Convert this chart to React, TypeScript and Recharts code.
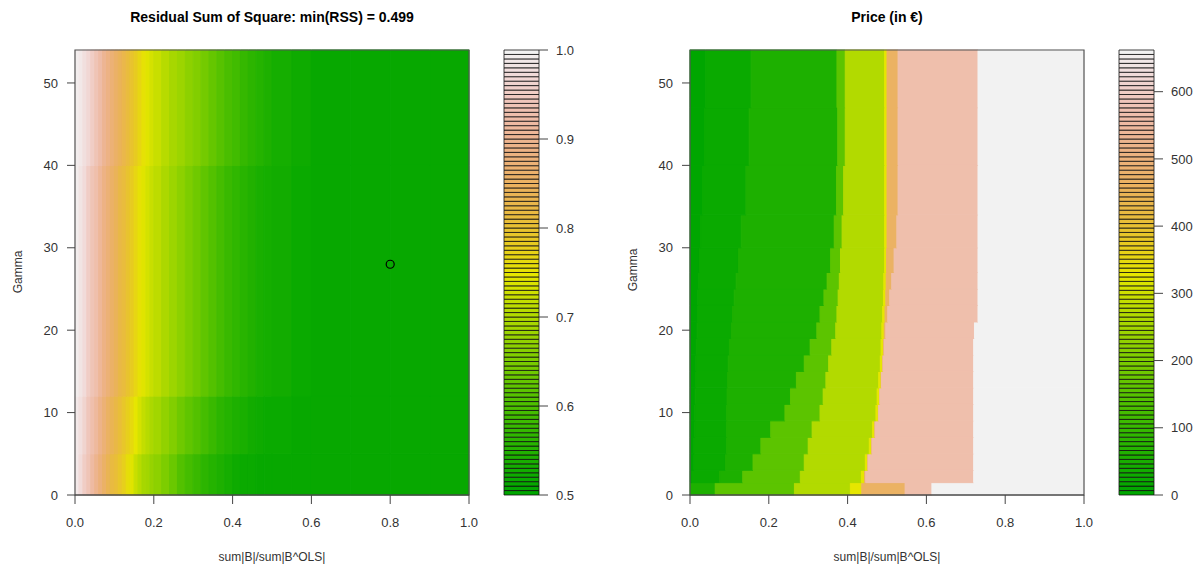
import React from 'react';
import { ComposedChart, XAxis, YAxis, ReferenceArea, Scatter } from 'recharts';

// ---- left panel: residual sum of squares ----
const rssXEdges = [
  0, 0.01, 0.02, 0.03, 0.04, 0.05, 0.06, 0.07, 0.08, 0.09, 0.1, 0.11, 0.12, 0.13, 0.14, 0.15, 0.16, 0.17, 0.18, 0.19, 0.2,
  0.22, 0.24, 0.26, 0.28, 0.3, 0.32, 0.34, 0.36, 0.38, 0.4, 0.42, 0.44, 0.46, 0.48, 0.5,
  0.55, 0.6, 0.7, 0.8, 0.9, 1.0,
];
const rssGammaEdges = [0, 5, 12, 40, 54];
const rss0 = [
  0.985, 0.97, 0.955, 0.935, 0.915, 0.895, 0.875, 0.855, 0.835, 0.82, 0.805, 0.79, 0.775, 0.755, 0.74, 0.725, 0.71, 0.695, 0.685, 0.675, 0.665,
  0.65, 0.63, 0.61, 0.595, 0.58, 0.565, 0.55, 0.54, 0.53, 0.523, 0.518, 0.515, 0.513, 0.512, 0.511,
  0.51, 0.51, 0.51, 0.51, 0.51,
];
const rss1 = [
  0.988, 0.975, 0.962, 0.945, 0.928, 0.91, 0.89, 0.87, 0.852, 0.837, 0.822, 0.807, 0.792, 0.775, 0.76, 0.745, 0.73, 0.718, 0.708, 0.698, 0.688,
  0.672, 0.655, 0.637, 0.622, 0.607, 0.592, 0.578, 0.565, 0.553, 0.543, 0.535, 0.528, 0.522, 0.518, 0.515,
  0.512, 0.51, 0.51, 0.51, 0.51,
];
const rss2 = [
  0.99, 0.98, 0.97, 0.955, 0.94, 0.925, 0.905, 0.885, 0.87, 0.855, 0.84, 0.825, 0.81, 0.795, 0.78, 0.765, 0.752, 0.742, 0.732, 0.722, 0.712,
  0.697, 0.682, 0.667, 0.652, 0.637, 0.622, 0.607, 0.592, 0.578, 0.566, 0.556, 0.546, 0.538, 0.531, 0.525,
  0.517, 0.512, 0.51, 0.51, 0.51,
];
const rss3 = [
  0.993, 0.986, 0.978, 0.966, 0.953, 0.938, 0.922, 0.903, 0.887, 0.872, 0.857, 0.842, 0.827, 0.812, 0.797, 0.782, 0.767, 0.753, 0.742, 0.732, 0.722,
  0.708, 0.695, 0.682, 0.668, 0.655, 0.642, 0.628, 0.614, 0.6, 0.587, 0.574, 0.562, 0.551, 0.541, 0.532,
  0.52, 0.514, 0.51, 0.51, 0.51,
];
const rssRows = [rss0, rss1, rss2, rss3];
const rssMin = [{ x: 0.8, y: 28 }];

// ---- right panel: price ----
const priceGammaEdges = [0, 1.5, 3, 5, 7, 9, 11, 13, 15, 17, 19, 21, 23, 25, 27, 30, 34, 40, 47, 54];
const priceBands = [5, 25, 58, 156, 265, 330, 470, 566, 662];
// x where each band ends, one value per gamma row
const edgeAB = [0, 0.005, 0.01, 0.01, 0.012, 0.012, 0.013, 0.014, 0.015, 0.016, 0.018, 0.019, 0.02, 0.022, 0.024, 0.027, 0.032, 0.037, 0.04];
const edgeBC = [0, 0.075, 0.09, 0.093, 0.093, 0.093, 0.094, 0.095, 0.097, 0.1, 0.105, 0.108, 0.112, 0.117, 0.123, 0.13, 0.142, 0.15, 0.155];
const edgeCD = [0.064, 0.134, 0.16, 0.18, 0.205, 0.241, 0.255, 0.27, 0.29, 0.305, 0.322, 0.33, 0.34, 0.348, 0.357, 0.366, 0.372, 0.375, 0.373];
const edgeDE = [0.265, 0.28, 0.29, 0.3, 0.31, 0.33, 0.338, 0.345, 0.352, 0.36, 0.37, 0.373, 0.376, 0.379, 0.382, 0.386, 0.39, 0.394, 0.394];
const edgeEF = [0.407, 0.435, 0.445, 0.455, 0.463, 0.472, 0.475, 0.479, 0.483, 0.485, 0.487, 0.489, 0.491, 0.492, 0.494, 0.494, 0.494, 0.494, 0.494];
const edgeFG = [0.436, 0.443, 0.451, 0.461, 0.469, 0.478, 0.481, 0.485, 0.489, 0.491, 0.493, 0.495, 0.497, 0.498, 0.499, 0.5, 0.5, 0.5, 0.5];
const edgeGH = [0.546, 0.446, 0.452, 0.462, 0.47, 0.479, 0.482, 0.486, 0.49, 0.493, 0.497, 0.502, 0.507, 0.512, 0.518, 0.525, 0.528, 0.528, 0.528];
const edgeHI = [0.614, 0.72, 0.72, 0.72, 0.72, 0.72, 0.72, 0.72, 0.72, 0.72, 0.722, 0.731, 0.731, 0.731, 0.731, 0.731, 0.731, 0.731, 0.731];

const xTicks = [0, 0.2, 0.4, 0.6, 0.8, 1.0];
const gammaTicks = [0, 10, 20, 30, 40, 50];
const rssKeyTicks = [0.5, 0.6, 0.7, 0.8, 0.9, 1.0];
const priceKeyTicks = [0, 100, 200, 300, 400, 500, 600];

const FONT = '"Liberation Sans", Arial, sans-serif';
const NLEV = 100;

// R terrain.colors(100)
function terrain(i: number) {
  let h: number, s: number, v: number;
  if (i < NLEV / 2) {
    const f = i / (NLEV / 2 - 1);
    h = 1 / 3 - f / 6; s = 1; v = 0.65 + 0.25 * f;
  } else {
    const f = (i - (NLEV / 2 - 1)) / (NLEV / 2);
    h = (1 / 6) * (1 - f); s = 1 - f; v = 0.9 + 0.05 * f;
  }
  const k = (n: number) => (n + h * 6) % 6;
  const ch = (n: number) => Math.round(255 * (v - v * s * Math.max(0, Math.min(k(n), 4 - k(n), 1))));
  return `rgb(${ch(5)},${ch(3)},${ch(1)})`;
}

function colorOf(val: number, lo: number, hi: number) {
  const i = Math.max(0, Math.min(NLEV - 1, Math.floor(((val - lo) / (hi - lo)) * NLEV)));
  return terrain(i);
}

const tickStyle = { fontSize: 13, fill: '#333', fontFamily: FONT };

function rssCells() {
  const out: React.ReactNode[] = [];
  rssRows.forEach((row, r) => {
    row.forEach((v, c) => {
      const fill = colorOf(v, 0.5, 1.0);
      out.push(
        <ReferenceArea
          key={`rss-${r}-${c}`}
          x1={rssXEdges[c]}
          x2={rssXEdges[c + 1]}
          y1={rssGammaEdges[r]}
          y2={rssGammaEdges[r + 1]}
          fill={fill}
          fillOpacity={1}
          stroke={fill}
          strokeWidth={1}
        />
      );
    });
  });
  return out;
}

function priceCells() {
  const out: React.ReactNode[] = [];
  for (let r = 0; r < priceGammaEdges.length - 1; r++) {
    const xs = [0, edgeAB[r], edgeBC[r], edgeCD[r], edgeDE[r], edgeEF[r], edgeFG[r], edgeGH[r], edgeHI[r], 1];
    for (let b = 0; b < priceBands.length; b++) {
      if (xs[b + 1] <= xs[b]) continue;
      const fill = colorOf(priceBands[b], 0, 662);
      out.push(
        <ReferenceArea
          key={`p-${r}-${b}`}
          x1={xs[b]}
          x2={xs[b + 1]}
          y1={priceGammaEdges[r]}
          y2={priceGammaEdges[r + 1]}
          fill={fill}
          fillOpacity={1}
          stroke={fill}
          strokeWidth={1}
        />
      );
    }
  }
  return out;
}

function keyCells(lo: number, hi: number) {
  const out: React.ReactNode[] = [];
  for (let i = 0; i < NLEV; i++) {
    out.push(
      <ReferenceArea
        key={`k-${i}`}
        x1={0}
        x2={1}
        y1={lo + ((hi - lo) * i) / NLEV}
        y2={lo + ((hi - lo) * (i + 1)) / NLEV}
        fill={terrain(i)}
        fillOpacity={1}
        stroke="#111"
        strokeWidth={0.8}
        ifOverflow="visible"
      />
    );
  }
  return out;
}

function Heatmap({ cells, withMin }: { cells: React.ReactNode[]; withMin?: boolean }) {
  return (
    <ComposedChart width={600} height={570} margin={{ top: 50, right: 131, bottom: 45, left: 15 }}>
      <XAxis
        type="number"
        dataKey="x"
        domain={[0, 1]}
        ticks={xTicks}
        tickFormatter={(v: number) => v.toFixed(1)}
        tick={tickStyle}
        tickSize={9}
        tickMargin={14}
        height={30}
        stroke="#444"
        allowDataOverflow
      />
      <YAxis
        type="number"
        dataKey="y"
        domain={[0, 54]}
        ticks={gammaTicks}
        tick={tickStyle}
        tickSize={8}
        tickMargin={9}
        width={60}
        stroke="#444"
        axisLine={false}
        allowDataOverflow
      />
      {cells}
      <ReferenceArea x1={0} x2={1} y1={0} y2={54} fill="none" fillOpacity={0} stroke="#555" strokeWidth={1.2} />
      {withMin && (
        <Scatter
          data={rssMin}
          isAnimationActive={false}
          shape={(p: any) => <circle cx={p.cx} cy={p.cy} r={4} fill="none" stroke="#000" strokeWidth={1.2} />}
        />
      )}
    </ComposedChart>
  );
}

function ColorKey({ lo, hi, ticks, width, fmt }: { lo: number; hi: number; ticks: number[]; width: number; fmt: (v: number) => string }) {
  return (
    <ComposedChart width={width} height={570} margin={{ top: 50, right: width - 24 - 35 - 50, bottom: 75, left: 24 }}>
      <XAxis
        type="number"
        dataKey="x"
        domain={[0, 1]}
        height={0}
        tick={false}
        tickLine={false}
        axisLine={false}
        allowDataOverflow
      />
      <YAxis
        type="number"
        dataKey="y"
        orientation="right"
        domain={[lo, hi]}
        ticks={ticks}
        tickFormatter={fmt}
        tick={tickStyle}
        tickSize={9}
        tickMargin={8}
        width={50}
        stroke="#444"
        axisLine={false}
        allowDataOverflow
      />
      {keyCells(lo, hi)}
    </ComposedChart>
  );
}

const abs = (left: number, top: number): React.CSSProperties => ({ position: 'absolute', left, top });

export default function App() {
  return (
    <div style={{ position: 'absolute', left: 0, top: 0, width: 1202, height: 570, background: '#fff', fontFamily: FONT, overflow: 'hidden' }}>
      <div style={abs(0, 0)}>
        <Heatmap cells={rssCells()} withMin />
      </div>
      <div style={abs(480, 0)}>
        <ColorKey lo={0.5} hi={1.0} ticks={rssKeyTicks} width={120} fmt={(v) => v.toFixed(1)} />
      </div>
      <div style={abs(615, 0)}>
        <Heatmap cells={priceCells()} />
      </div>
      <div style={abs(1095, 0)}>
        <ColorKey lo={0} hi={662} ticks={priceKeyTicks} width={110} fmt={(v) => String(v)} />
      </div>

      <div style={{ position: 'absolute', left: 72, width: 400, top: 9, textAlign: 'center', fontWeight: 'bold', fontSize: 14, color: '#000' }}>
        Residual Sum of Square: min(RSS) = 0.499
      </div>
      <div style={{ position: 'absolute', left: 687, width: 400, top: 9, textAlign: 'center', fontWeight: 'bold', fontSize: 14, color: '#000' }}>
        Price (in €)
      </div>
      <div style={{ position: 'absolute', left: 72, width: 400, top: 550, textAlign: 'center', fontSize: 12, color: '#333' }}>
        sum|B|/sum|B^OLS|
      </div>
      <div style={{ position: 'absolute', left: 687, width: 400, top: 550, textAlign: 'center', fontSize: 12, color: '#333' }}>
        sum|B|/sum|B^OLS|
      </div>
      <div style={{ position: 'absolute', left: 18, top: 272, fontSize: 12, color: '#333', transform: 'translate(-50%, -50%) rotate(-90deg)' }}>
        Gamma
      </div>
      <div style={{ position: 'absolute', left: 633, top: 270, fontSize: 12, color: '#333', transform: 'translate(-50%, -50%) rotate(-90deg)' }}>
        Gamma
      </div>
    </div>
  );
}
